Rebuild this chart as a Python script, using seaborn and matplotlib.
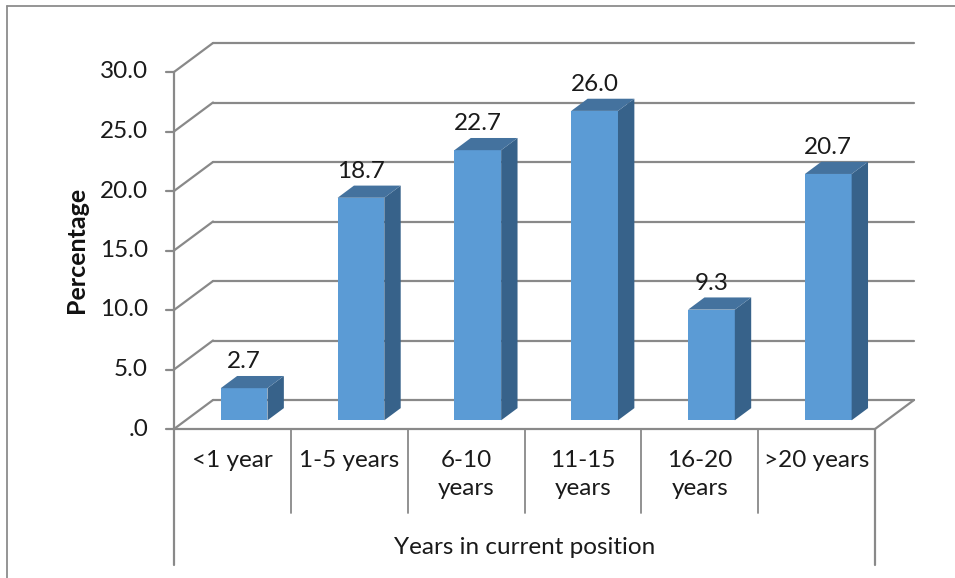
import matplotlib
matplotlib.use("Agg")
import matplotlib.pyplot as plt
from matplotlib.patches import Polygon
import seaborn as sns

# data
categories = ["<1 year", "1-5 years", "6-10\nyears", "11-15\nyears", "16-20\nyears", ">20 years"]
percent = [2.7, 18.7, 22.7, 26.0, 9.3, 20.7]
ticks = [0, 5, 10, 15, 20, 25, 30]
tick_labels = [".0", "5.0", "10.0", "15.0", "20.0", "25.0", "30.0"]

sns.set_style("white")
plt.rcParams["font.family"] = ["Lato", "DejaVu Sans"]

W, H = 955, 578
fig = plt.figure(figsize=(W / 100, H / 100), dpi=100)
ax = fig.add_axes([0, 0, 1, 1])

# pixel geometry of the front plane
X0, X1 = 174, 875      # front left / right edge (px)
Y0, Y30 = 429, 72      # value 0 and value 30 (px from top)
XW = (X1 - X0) / len(categories)
YS = (Y0 - Y30) / 30.0
DX = 39 / XW           # depth of the box in data units
DY = 29 / YS
f0, bd = 0.30, 0.42    # bar front position and bar depth (fraction of box depth)

front, side, top = "#5B9BD5", "#37628A", "#44729E"
grid_c = "#898989"
txt_c = "#1a1a1a"
fs = 17.5

sns.barplot(x=categories, y=percent, width=0.40, color=front, saturation=1,
            ax=ax, zorder=3, edgecolor="none")

def px2y(p):
    return (Y0 - p) / YS

def px2x(p):
    return -0.5 + (p - X0) / XW

ax.set_xlim(px2x(0), px2x(W))
ax.set_ylim(px2y(H), px2y(0))
ax.axis("off")

# back wall gridlines and left wall diagonals
for v in ticks:
    ax.plot([-0.5 + DX, len(categories) - 0.5 + DX], [v + DY, v + DY], color=grid_c, lw=1.6, zorder=1)
    ax.plot([-0.5, -0.5 + DX], [v, v + DY], color=grid_c, lw=1.6, zorder=1)
    ax.plot([-0.5 - 8 / XW, -0.5], [v, v], color=grid_c, lw=1.6, zorder=1)
# floor right edge
ax.plot([len(categories) - 0.5 + DX, len(categories) - 0.5], [DY, 0], color=grid_c, lw=1.6, zorder=1)

# y axis and category table
ax.plot([-0.5, -0.5], [30, px2y(565)], color=grid_c, lw=1.6, zorder=2)
ax.plot([len(categories) - 0.5] * 2, [0, px2y(565)], color=grid_c, lw=1.6, zorder=2)
ax.plot([-0.5, len(categories) - 0.5], [0, 0], color=grid_c, lw=1.6, zorder=2)
for i in range(1, len(categories)):
    ax.plot([i - 0.5, i - 0.5], [0, px2y(513)], color=grid_c, lw=1.3, zorder=2)

# tick labels
for v, lab in zip(ticks, tick_labels):
    ax.text(px2x(148), v, lab, ha="right", va="center", fontsize=fs, color=txt_c)

# 3D faces on the bars
for p, val in zip(ax.patches, percent):
    p.set_x(p.get_x() + f0 * DX)
    p.set_y(f0 * DY)
    x0 = p.get_x()
    x1 = x0 + p.get_width()
    yb = p.get_y()
    yt = yb + p.get_height()
    ox, oy = bd * DX, bd * DY
    ax.add_patch(Polygon([(x1, yb), (x1 + ox, yb + oy), (x1 + ox, yt + oy), (x1, yt)],
                         closed=True, facecolor=side, edgecolor="none", zorder=3))
    ax.add_patch(Polygon([(x0, yt), (x1, yt), (x1 + ox, yt + oy), (x0 + ox, yt + oy)],
                         closed=True, facecolor=top, edgecolor="none", zorder=3))
    ax.text((x0 + x1) / 2, yt + oy + 14 / YS, f"{val:.1f}", ha="center", va="center",
            fontsize=fs, color=txt_c, zorder=4)

# category labels
for i, c in enumerate(categories):
    ax.text(i, px2y(450), c, ha="center", va="top", fontsize=fs, color=txt_c,
            linespacing=1.4)

ax.text((len(categories) - 1) / 2, px2y(548), "Years in current position", ha="center",
        va="center", fontsize=fs, color=txt_c)
ax.text(px2x(77), px2y(250), "Percentage", rotation=90, ha="center", va="center",
        fontsize=18, fontweight="bold", color="#111111")

# outer chart border (cropped at right and bottom)
ax.plot([px2x(7), px2x(7)], [px2y(H), px2y(6)], color="#8c8c8c", lw=1.3)
ax.plot([px2x(7), px2x(W)], [px2y(6), px2y(6)], color="#8c8c8c", lw=1.3)

fig.savefig("out.png", dpi=100)
